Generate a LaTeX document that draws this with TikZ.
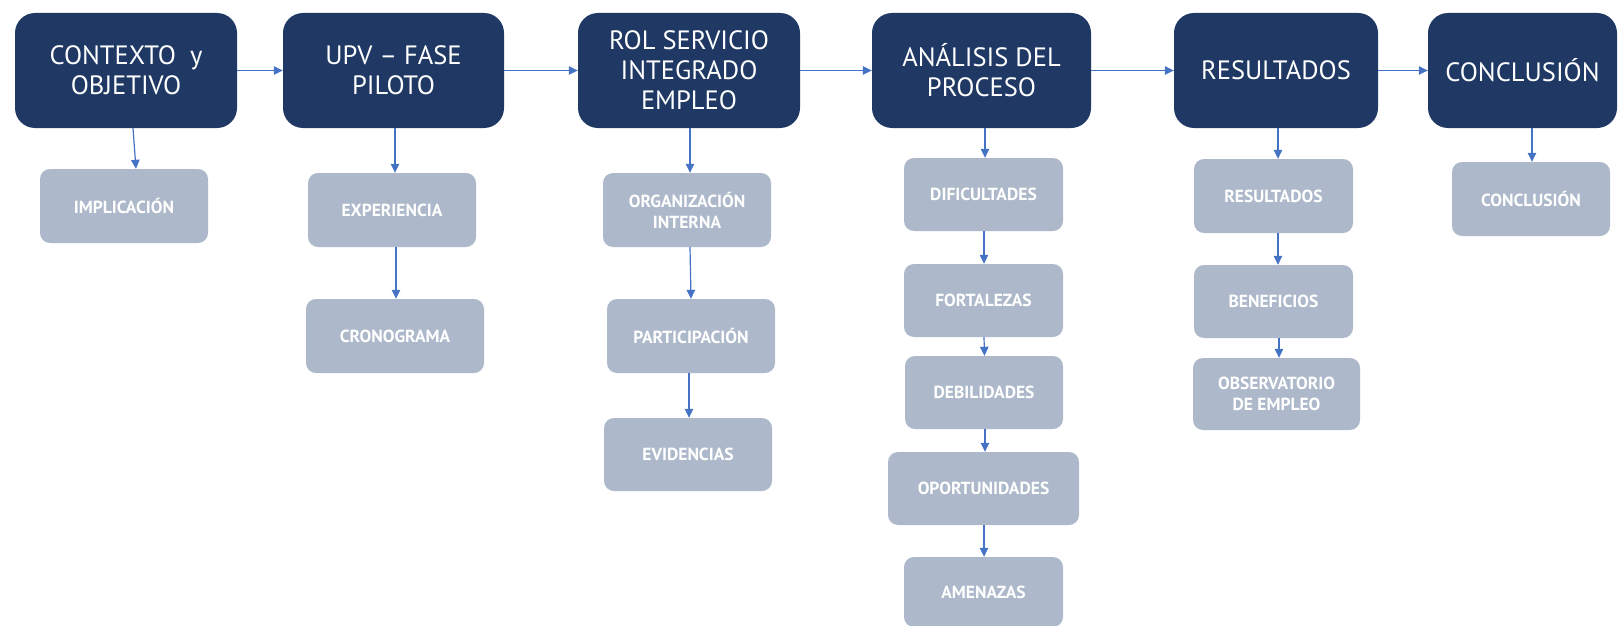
\documentclass[tikz,border=0pt]{standalone}
\usepackage{fontspec}
\setmainfont{PT Sans}
\usetikzlibrary{arrows.meta}
\definecolor{navy}{HTML}{1F3864}
\definecolor{slate}{HTML}{ADB9CA}
\definecolor{arr}{HTML}{4472C4}
\begin{document}
\begin{tikzpicture}[x=1pt,y=-1pt,
  topbox/.style={fill=navy, rounded corners=20pt, text=white, font=\fontsize{26.5}{30}\selectfont, align=center, minimum height=115pt, inner sep=0pt},
  subbox/.style={fill=slate, rounded corners=10pt, text=white, font=\bfseries\fontsize{17.5}{21}\selectfont, align=center, minimum height=74pt, inner sep=0pt},
  link/.style={draw=arr, line width=1.2pt, -{Triangle[length=9pt,width=8.5pt]}}]
\useasboundingbox (0,0) rectangle (1619,626);
% top row
\node[topbox, minimum width=222pt] (ctx) at (126,70.5) {CONTEXTO\ \ y\\OBJETIVO};
\node[topbox, minimum width=221pt] (upv) at (393.5,70.5) {UPV -- FASE\\PILOTO};
\node[topbox, minimum width=222pt] (rol) at (689,70.5) {ROL SERVICIO\\INTEGRADO\\EMPLEO};
\node[topbox, minimum width=219pt] (ana) at (981.5,70.5) {ANÁLISIS DEL\\PROCESO};
\node[topbox, minimum width=204pt] (res) at (1276,70.5) {RESULTADOS};
\node[topbox, minimum width=189pt] (con) at (1522.5,70.5) {CONCLUSIÓN};
% sub boxes
\node[subbox, minimum width=168pt] (imp) at (124,206) {IMPLICACIÓN};
\node[subbox, minimum width=168pt] (exp) at (392,210) {EXPERIENCIA};
\node[subbox, minimum width=178pt] (cro) at (395,336) {CRONOGRAMA};
\node[subbox, minimum width=168pt] (org) at (687,210) {ORGANIZACIÓN\\INTERNA};
\node[subbox, minimum width=168pt] (par) at (691,336) {PARTICIPACIÓN};
\node[subbox, minimum width=168pt, minimum height=73pt] (evi) at (688,454.5) {EVIDENCIAS};
\node[subbox, minimum width=159pt, minimum height=73pt] (dif) at (983.5,194.5) {DIFICULTADES};
\node[subbox, minimum width=159pt, minimum height=73pt] (for) at (983.5,300.5) {FORTALEZAS};
\node[subbox, minimum width=158pt, minimum height=73pt] (deb) at (984,392.5) {DEBILIDADES};
\node[subbox, minimum width=191pt, minimum height=73pt] (opo) at (983.5,488.5) {OPORTUNIDADES};
\node[subbox, minimum width=159pt, minimum height=70pt] (ame) at (983.5,592) {AMENAZAS};
\node[subbox, minimum width=159pt] (rs2) at (1273.5,196) {RESULTADOS};
\node[subbox, minimum width=159pt, minimum height=73pt] (ben) at (1273.5,301.5) {BENEFICIOS};
\node[subbox, minimum width=167pt, minimum height=72pt] (obs) at (1276.5,394) {OBSERVATORIO\\DE EMPLEO};
\node[subbox, minimum width=158pt] (cn2) at (1531,199) {CONCLUSIÓN};
% horizontal links
\draw[link] (ctx.east) -- (upv.west);
\draw[link] (upv.east) -- (rol.west);
\draw[link] (rol.east) -- (ana.west);
\draw[link] (ana.east) -- (res.west);
\draw[link] (res.east) -- (con.west);
% vertical links
\draw[link] ([xshift=7pt]ctx.south) -- ([xshift=12pt]imp.north);
\draw[link] ([xshift=1.5pt]upv.south) -- ([xshift=3pt]exp.north);
\draw[link] ([xshift=4pt]exp.south) -- ([xshift=1pt]cro.north);
\draw[link] ([xshift=1pt]rol.south) -- ([xshift=3pt]org.north);
\draw[link] ([xshift=3pt]org.south) -- ([xshift=0pt]par.north);
\draw[link] ([xshift=-2pt]par.south) -- ([xshift=1pt]evi.north);
\draw[link] ([xshift=3.5pt]ana.south) -- ([xshift=1.5pt]dif.north);
\draw[link] ([xshift=0.5pt]dif.south) -- ([xshift=0.5pt]for.north);
\draw[link] ([xshift=0.5pt]for.south) -- ([xshift=0.5pt]deb.north);
\draw[link] ([xshift=1pt]deb.south) -- ([xshift=1.5pt]opo.north);
\draw[link] ([xshift=0.5pt]opo.south) -- ([xshift=0.5pt]ame.north);
\draw[link] ([xshift=2pt]res.south) -- ([xshift=4.5pt]rs2.north);
\draw[link] ([xshift=4.5pt]rs2.south) -- ([xshift=4.5pt]ben.north);
\draw[link] ([xshift=5.5pt]ben.south) -- ([xshift=2.5pt]obs.north);
\draw[link] ([xshift=9.5pt]con.south) -- ([xshift=1pt]cn2.north);
\end{tikzpicture}
\end{document}
